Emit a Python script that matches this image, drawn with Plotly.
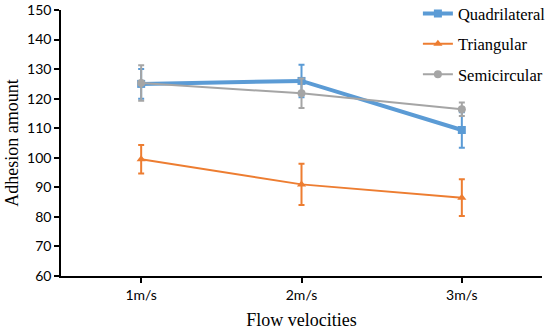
import plotly.graph_objects as go

categories = ["1m/s", "2m/s", "3m/s"]
quad = [125.0, 126.0, 109.4]
quad_err = [5.0, 5.5, 6.0]
tri = [99.5, 91.0, 86.5]
tri_err = [4.8, 7.0, 6.2]
semi = [125.3, 121.8, 116.4]
semi_err = [6.0, 5.0, 2.3]

fig = go.Figure()

def add(name, y, err, color, width, symbol, size, group):
    fig.add_trace(go.Scatter(
        x=categories, y=y, name=name, mode="lines+markers",
        line=dict(color=color, width=width),
        marker=dict(color=color, symbol=symbol, size=size),
        error_y=dict(type="data", array=err, visible=True, color=color, thickness=2, width=3),
        legendgroup=group,
    ))

add("Quadrilateral", quad, quad_err, "#5B9BD5", 4, "square", 8, "a")
add("Triangular", tri, tri_err, "#ED7D31", 2, "triangle-up", 8, "b")
add("Semicircular", semi, semi_err, "#A5A5A5", 2, "circle", 8, "c")

fig.update_layout(
    width=550, height=332,
    margin=dict(l=61, r=8, t=10, b=56, autoexpand=False),
    plot_bgcolor="white", paper_bgcolor="white",
    font=dict(family="Liberation Serif", color="black"),
    legend=dict(x=0.742, y=1.052, xanchor="left", yanchor="top",
                font=dict(family="Liberation Serif", size=16.5, color="black"),
                tracegroupgap=6, bgcolor="rgba(0,0,0,0)", itemwidth=30),
    showlegend=True,
)
fig.update_xaxes(
    type="category", range=[-0.5, 2.5],
    showline=True, linecolor="black", linewidth=1.5,
    ticks="outside", ticklen=5, tickcolor="black", tickwidth=1.5,
    tickfont=dict(family="Lato", size=14, color="black"),
    showgrid=False,
    title=dict(text="Flow velocities", font=dict(family="Liberation Serif", size=18), standoff=12),
)
fig.update_yaxes(
    range=[60, 150], dtick=10,
    showline=True, linecolor="black", linewidth=1.5,
    ticks="outside", ticklen=5, tickcolor="black", tickwidth=1.5,
    tickfont=dict(family="Lato", size=14, color="black"),
    showgrid=False, zeroline=False, ticklabeloverflow="allow",
    title=dict(text="Adhesion amount", font=dict(family="Liberation Serif", size=18), standoff=4),
)

fig.write_html("out.html", config={"displayModeBar": False},
               post_script="document.body.style.margin='0';")
